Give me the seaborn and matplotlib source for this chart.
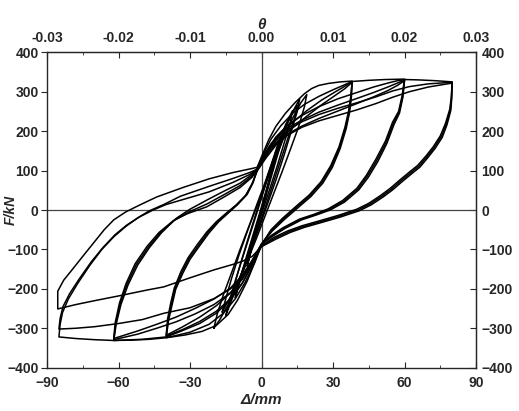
import pandas as pd
import seaborn as sns
import matplotlib.pyplot as plt
from matplotlib.ticker import MultipleLocator, FormatStrFormatter

# --- data: (displacement mm, force kN) ---
# small cycles near the origin
L5 = [(-6, -142), (-4, -95), (-1.5, -40), (1, 15), (3, 65), (4.8, 115), (6, 148),
      (5, 118), (3, 72), (0.5, 15), (-2, -45), (-4.5, -105), (-6, -142)]
L10 = [(-11, -222), (-9.5, -185), (-7, -132), (-4, -72), (-1, -12), (2, 50), (5, 115),
       (8, 175), (10, 212), (9, 185), (6.5, 135), (3.5, 72), (0.5, 10), (-2.5, -52),
       (-6, -120), (-9, -180), (-11, -222)]
L13 = [(-13, -226), (-11.5, -192), (-9, -140), (-6, -80), (-3, -22), (0, 35), (3, 95),
       (6.5, 160), (10, 215), (13, 252), (12, 220), (9.5, 170), (6.5, 110), (3, 45),
       (0, -10), (-3, -65), (-6.5, -130), (-10, -185), (-13, -226)]
L15 = [(-15, -268), (-13.5, -232), (-11, -180), (-8, -122), (-5, -65), (-2, -8), (1, 50),
       (4, 108), (7.5, 170), (11, 222), (13.5, 252), (15, 265), (14, 236), (11.5, 190),
       (8.5, 135), (5, 70), (2, 15), (-1, -40), (-4.5, -100), (-8.5, -165), (-12, -220),
       (-15, -268)]
L16 = [(-16.5, -259), (-15, -225), (-12.5, -172), (-9.5, -115), (-6, -55), (-2.5, 5),
       (1, 62), (5, 130), (9, 195), (13, 248), (16, 282), (15, 250), (12.5, 200),
       (9.5, 140), (6, 75), (2.5, 15), (-1, -45), (-5, -110), (-9, -170), (-13, -220),
       (-16.5, -259)]
L20 = [(-20, -300), (-18.5, -262), (-16, -215), (-12.5, -158), (-9, -100), (-5.5, -45),
       (-2, 8), (1.5, 62), (5, 118), (9, 178), (13, 232), (16.5, 272), (19, 293),
       (18, 262), (15.5, 210), (12, 152), (8.5, 95), (5, 40), (1.5, -15), (-2, -70),
       (-6, -130), (-10, -190), (-14, -240), (-17.5, -278), (-20, -300)]

# loading towards the positive peaks
P38_1 = [(-2, 105), (0, 135), (3, 178), (6, 212), (10, 245), (14, 272), (18, 295),
         (21, 308), (24, 316), (28, 321), (33, 325), (38, 327)]
P38_2 = [(-2, 102), (1, 140), (4, 168), (8, 195), (13, 222), (19, 252), (25, 278),
         (31, 300), (35, 314), (38, 326)]
P38_3 = [(-2, 98), (1, 132), (4, 158), (8, 182), (13, 208), (19, 238), (25, 266),
         (31, 291), (35, 308), (38, 324)]
P60_1 = [(-2, 105), (1, 145), (4, 180), (8, 213), (13, 245), (18, 268), (24, 288),
         (30, 305), (35, 318), (38, 326), (45, 329), (52, 331), (60, 332)]
P60_2 = [(-2, 102), (2, 145), (6, 180), (11, 208), (17, 228), (24, 248), (32, 266),
         (40, 283), (47, 298), (53, 312), (57, 322), (60, 330)]
P60_3 = [(-2, 98), (2, 136), (6, 168), (11, 193), (17, 213), (24, 232), (32, 251),
         (40, 270), (47, 287), (53, 303), (57, 316), (60, 328)]
P80_1 = [(-2, 105), (2, 148), (6, 185), (11, 216), (17, 240), (24, 262), (32, 282),
         (40, 298), (47, 312), (53, 322), (57, 328), (60, 331), (66, 330), (73, 328),
         (80, 325)]
P80_2 = [(-2, 102), (2, 142), (6, 176), (11, 203), (17, 224), (24, 242), (32, 258),
         (40, 272), (48, 287), (55, 302), (62, 313), (70, 320), (80, 324)]
P80_3 = [(-2, 98), (2, 133), (6, 164), (11, 190), (17, 210), (24, 226), (32, 240),
         (40, 254), (48, 270), (55, 286), (62, 300), (70, 312), (80, 322)]

# unloading from the positive peaks
U38_1 = [(38, 327), (37.5, 290), (36.5, 250), (35, 210), (32.5, 160), (29, 112),
         (25, 72), (20, 38), (15, 12), (9, -20), (4, -50), (0, -88)]
U38_2 = [(38, 326), (37.6, 288), (36.7, 248), (35.2, 208), (32.7, 158), (29.3, 110),
         (25.3, 70), (20.3, 36), (15.3, 10), (9.3, -22), (4.2, -52), (0, -87)]
U38_3 = [(38, 324), (37.7, 286), (36.9, 246), (35.5, 206), (33, 156), (29.7, 108),
         (25.7, 68), (20.7, 34), (15.7, 8), (9.6, -24), (4.4, -54), (0, -86)]
U60_1 = [(60, 332), (59, 290), (57.5, 250), (55, 223), (52, 175), (48, 129), (44, 88),
         (40, 55), (34, 24), (28, 3), (22, -11), (16, -23), (9, -45), (4, -65), (0, -88)]
U60_2 = [(60, 330), (59.2, 288), (57.7, 248), (55.3, 220), (52.3, 172), (48.4, 126),
         (44.4, 86), (40.4, 53), (34.4, 22), (28.4, 2), (22.4, -12), (16.4, -24),
         (9.4, -46), (4.3, -66), (0, -87)]
U60_3 = [(60, 328), (59.3, 286), (57.9, 246), (55.6, 217), (52.6, 169), (48.8, 123),
         (44.8, 83), (40.8, 51), (34.8, 20), (28.8, 0), (22.8, -13), (16.8, -25),
         (9.8, -47), (4.5, -67), (0, -86)]
U80_1 = [(80, 325), (79.6, 285), (79, 256), (77.2, 220), (75, 188), (72, 160), (69, 137),
         (65.5, 113), (62, 96), (58, 76), (54, 55), (50, 37), (45, 17), (40, 2), (32, -14),
         (24, -28), (17, -40), (11, -53), (5, -70), (0, -91)]
U80_2 = [(80, 324), (79.7, 284), (79.2, 254), (77.5, 218), (75.4, 186), (72.4, 158),
         (69.4, 135), (66, 111), (62.5, 94), (58.5, 74), (54.5, 53), (50.5, 35),
         (45.5, 15), (40.5, 0), (32.5, -16), (24.5, -30), (17.5, -42), (11.5, -55),
         (5.5, -72), (0, -92)]
U80_3 = [(80, 322), (79.8, 282), (79.4, 252), (77.8, 216), (75.8, 184), (72.8, 156),
         (69.8, 133), (66.5, 109), (63, 92), (59, 72), (55, 51), (51, 33), (46, 13),
         (41, -2), (33, -18), (25, -32), (18, -44), (12, -57), (6, -74), (0, -93)]

# loading towards the negative peaks
N40_1 = [(0, -88), (-3, -135), (-6, -180), (-10, -228), (-14, -265), (-19, -293),
         (-25, -308), (-32, -317), (-40, -324)]
N40_2 = [(0, -87), (-4, -140), (-8, -185), (-13, -225), (-19, -257), (-26, -283),
         (-33, -303), (-40, -320)]
N40_3 = [(0, -86), (-4, -130), (-8, -172), (-13, -210), (-19, -243), (-26, -272),
         (-33, -296), (-40, -318)]
N62_1 = [(0, -88), (-3, -135), (-7, -185), (-11, -225), (-16, -262), (-22, -290),
         (-30, -310), (-37, -320), (-40, -324), (-47, -328), (-54, -330), (-62, -331)]
N62_2 = [(0, -87), (-4, -135), (-8, -175), (-13, -210), (-20, -240), (-28, -264),
         (-36, -284), (-44, -300), (-52, -315), (-62, -329)]
N62_3 = [(0, -86), (-4, -128), (-8, -165), (-13, -198), (-20, -226), (-28, -250),
         (-36, -272), (-44, -290), (-52, -307), (-62, -326)]
N85_1 = [(0, -91), (-4, -140), (-8, -185), (-13, -228), (-19, -262), (-26, -288),
         (-34, -308), (-40, -322), (-50, -328), (-62, -331), (-70, -329), (-78, -326),
         (-85, -322)]
N85_2 = [(0, -92), (-4, -135), (-8, -170), (-13, -200), (-20, -225), (-30, -248),
         (-41, -262), (-50, -278), (-60, -288), (-70, -296), (-78, -300), (-85, -302)]
N85_3 = [(0, -93), (-4, -118), (-8, -130), (-12, -138), (-20, -152), (-30, -172),
         (-41, -195), (-48, -203), (-60, -218), (-70, -230), (-78, -240), (-85.5, -251)]

# unloading from the negative peaks
UN40_1 = [(-40, -324), (-39, -280), (-37.5, -240), (-36, -201), (-33, -160), (-30, -125),
          (-26, -91), (-22, -58), (-18, -30), (-14, -8), (-10, 14), (-6, 40), (-3.5, 70),
          (-2, 100)]
UN40_2 = [(-40, -320), (-39.2, -278), (-37.8, -238), (-36.3, -200), (-33.4, -158),
          (-30.4, -123), (-26.5, -90), (-22.5, -57), (-18.5, -30), (-14.5, -8),
          (-10.4, 13), (-6.4, 38), (-3.8, 68), (-2, 98)]
UN40_3 = [(-40, -318), (-39.4, -276), (-38.1, -236), (-36.6, -198), (-33.8, -156),
          (-30.8, -121), (-27, -88), (-23, -56), (-19, -30), (-15, -9), (-10.8, 12),
          (-6.8, 36), (-4, 66), (-2, 96)]
UN62_1 = [(-62, -331), (-61, -290), (-59, -240), (-56, -190), (-52, -140), (-47, -95),
          (-42, -58), (-36, -22), (-30, 2), (-23, 25), (-16, 47), (-9, 68), (-4, 90),
          (-2, 104)]
UN62_2 = [(-62, -329), (-61.2, -288), (-59.3, -238), (-56.4, -188), (-52.5, -138),
          (-47.5, -94), (-42.5, -58), (-36.5, -26), (-30.5, -5), (-23, 15), (-16, 38),
          (-9, 62), (-4, 86), (-2, 102)]
UN62_3 = [(-62, -326), (-61.4, -286), (-59.6, -236), (-56.8, -186), (-53, -136),
          (-48, -92), (-43, -57), (-37, -27), (-31, -9), (-23, 8), (-16, 32), (-9, 57),
          (-4, 83), (-2, 100)]
UN85_1 = [(-85, -322), (-84.5, -290), (-83.5, -260), (-81, -225), (-77, -185),
          (-72, -140), (-67, -100), (-62, -68), (-57, -42), (-52, -20), (-47, -2),
          (-41, 14), (-34, 35), (-22, 60), (-12, 80), (-5, 95), (-2, 103)]
UN85_2 = [(-85, -302), (-84.5, -275), (-83.3, -245), (-80.5, -212), (-76.5, -175),
          (-71.5, -132), (-66.5, -95), (-61.5, -63), (-56.5, -38), (-51, -17),
          (-45.5, 0), (-40, 14), (-31, 30), (-22, 46), (-12, 70), (-5, 90), (-2, 102)]
UN85_3 = [(-85.5, -251), (-85.5, -206), (-83, -178), (-79, -148), (-74, -110),
          (-70, -80), (-66, -50), (-62, -25), (-57, -5), (-51, 13), (-44, 33),
          (-33, 57), (-22, 79), (-12, 95), (-5, 104), (-2, 108)]

x_ticks = [-90, -60, -30, 0, 30, 60, 90]
y_ticks = [-400, -300, -200, -100, 0, 100, 200, 300, 400]
theta_ticks = [-0.03, -0.02, -0.01, 0.00, 0.01, 0.02, 0.03]

cycles = {
    "c5": L5, "c10": L10, "c13": L13, "c15": L15, "c16": L16, "c20": L20,
    "c38_1": P38_1 + U38_1 + N40_1 + UN40_1,
    "c38_2": P38_2 + U38_2 + N40_2 + UN40_2,
    "c38_3": P38_3 + U38_3 + N40_3 + UN40_3,
    "c60_1": P60_1 + U60_1 + N62_1 + UN62_1,
    "c60_2": P60_2 + U60_2 + N62_2 + UN62_2,
    "c60_3": P60_3 + U60_3 + N62_3 + UN62_3,
    "c80_1": P80_1 + U80_1 + N85_1 + UN85_1,
    "c80_2": P80_2 + U80_2 + N85_2 + UN85_2,
    "c80_3": P80_3 + U80_3 + N85_3 + UN85_3,
}

rows = []
for name, pts in cycles.items():
    for d, f in pts:
        rows.append((name, d, f))
df = pd.DataFrame(rows, columns=["cycle", "disp", "force"])

sns.set_style("ticks")
plt.rcParams["font.family"] = ["Liberation Sans", "DejaVu Sans"]
plt.rcParams["font.weight"] = "bold"

fig = plt.figure(figsize=(5.19, 4.11), dpi=100)
ax = fig.add_axes([0.0906, 0.1054, 0.8266, 0.7673])

ax.axhline(0, color="#444444", lw=0.9, zorder=1)
ax.axvline(0, color="#444444", lw=0.9, zorder=1)

sns.lineplot(data=df, x="disp", y="force", units="cycle", estimator=None, sort=False,
             color="black", lw=1.1, ax=ax, legend=False)

ax.set_xlim(-90, 90)
ax.set_ylim(-400, 400)
ax.set_xticks(x_ticks)
ax.xaxis.set_minor_locator(MultipleLocator(15))
ax.set_yticks(y_ticks)
ax.tick_params(axis="x", which="both", direction="in", labelsize=10, pad=6)
ax.tick_params(axis="x", which="major", length=4)
ax.tick_params(axis="x", which="minor", length=2)
ax.tick_params(axis="y", direction="out", length=4, labelsize=10, pad=2)
for lab in ax.get_xticklabels() + ax.get_yticklabels():
    lab.set_fontweight("bold")
for sp in ax.spines.values():
    sp.set_linewidth(1.0)
    sp.set_visible(True)

ax.set_xlabel("Δ/mm", fontsize=11, fontstyle="italic", fontweight="bold", labelpad=2)
ax.set_ylabel("F/kN", fontsize=10, fontstyle="italic", fontweight="bold")
ax.yaxis.set_label_coords(-0.068, 0.5)

top = ax.secondary_xaxis("top", functions=(lambda x: x / 3000.0, lambda t: t * 3000.0))
top.set_xticks(theta_ticks)
top.xaxis.set_minor_locator(MultipleLocator(0.005))
top.xaxis.set_major_formatter(FormatStrFormatter("%.2f"))
top.tick_params(which="both", direction="in", labelsize=10, pad=5)
top.tick_params(which="major", length=4)
top.tick_params(which="minor", length=2)
for lab in top.get_xticklabels():
    lab.set_fontweight("bold")
top.set_xlabel("θ", fontsize=11, fontstyle="italic", fontweight="bold", labelpad=2)

right = ax.secondary_yaxis("right")
right.set_yticks(y_ticks)
right.tick_params(direction="in", length=4, labelsize=10, pad=4)
for lab in right.get_yticklabels():
    lab.set_fontweight("bold")

fig.savefig("out.png", dpi=100)
